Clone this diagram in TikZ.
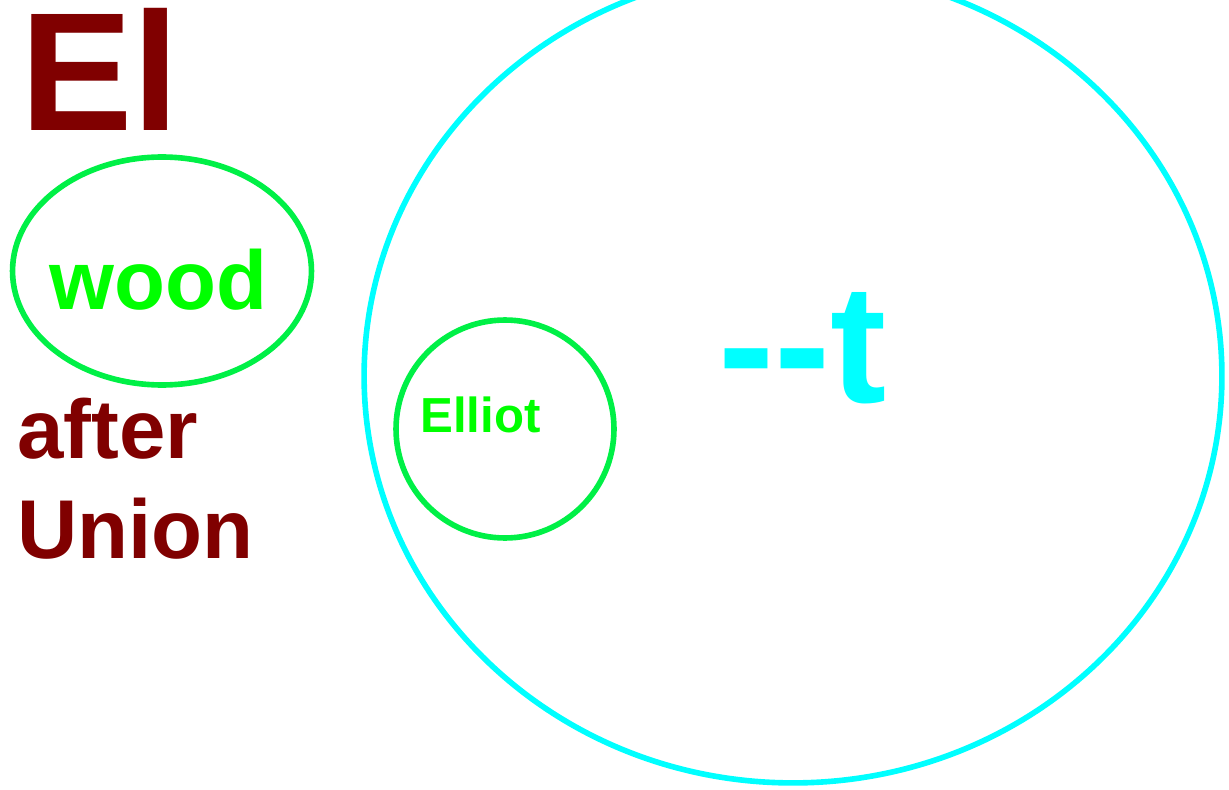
\documentclass[tikz,border=0pt]{standalone}
\usepackage{fontspec}
\setmainfont{Liberation Sans}
\usetikzlibrary{shapes.geometric,positioning}
\definecolor{darkred}{RGB}{128,0,0}
\definecolor{lime2}{RGB}{0,255,0}
\definecolor{ringgreen}{RGB}{0,240,70}
\definecolor{cyan2}{RGB}{0,255,255}
\tikzset{
  greenring/.style={ellipse, draw=ringgreen, line width=3.2pt, inner sep=0pt},
  cyanring/.style={ellipse, draw=cyan2, line width=3.2pt, inner sep=0pt},
  word/.style={inner sep=0pt, anchor=base west, font=\bfseries},
  hugeword/.style={word, font=\bfseries\fontsize{96pt}{100pt}\selectfont},
  midword/.style={word, font=\bfseries\fontsize{47.5pt}{56pt}\selectfont},
  smallword/.style={word, font=\bfseries\fontsize{28pt}{32pt}\selectfont}
}
\begin{document}
\begin{tikzpicture}[x=0.02cm, y=-0.02cm]
\useasboundingbox (0,0) rectangle (1229,790);
% rings
\node[cyanring, minimum width=17.16cm, minimum height=16.28cm] (outer) at (793,376) {};
\node[greenring, minimum width=5.98cm, minimum height=4.56cm] (woodring) at (162,271) {};
\node[greenring, minimum width=4.36cm, minimum height=4.36cm] (elliotring) at (505,429) {};
% labels
\node[hugeword, text=darkred] (el) at (20,131) {El};
\node[midword, text=lime2] (wood) at (49,309) {wood};
\node[midword, text=darkred] (after) at (17,458) {after};
\node[midword, text=darkred] (union) at (17,558) {Union};
\node[smallword, text=lime2] (elliot) at (420,432) {Elliot};
\node[hugeword, text=cyan2] (dasht) at (718,402) {-{}-t};
\end{tikzpicture}
\end{document}
